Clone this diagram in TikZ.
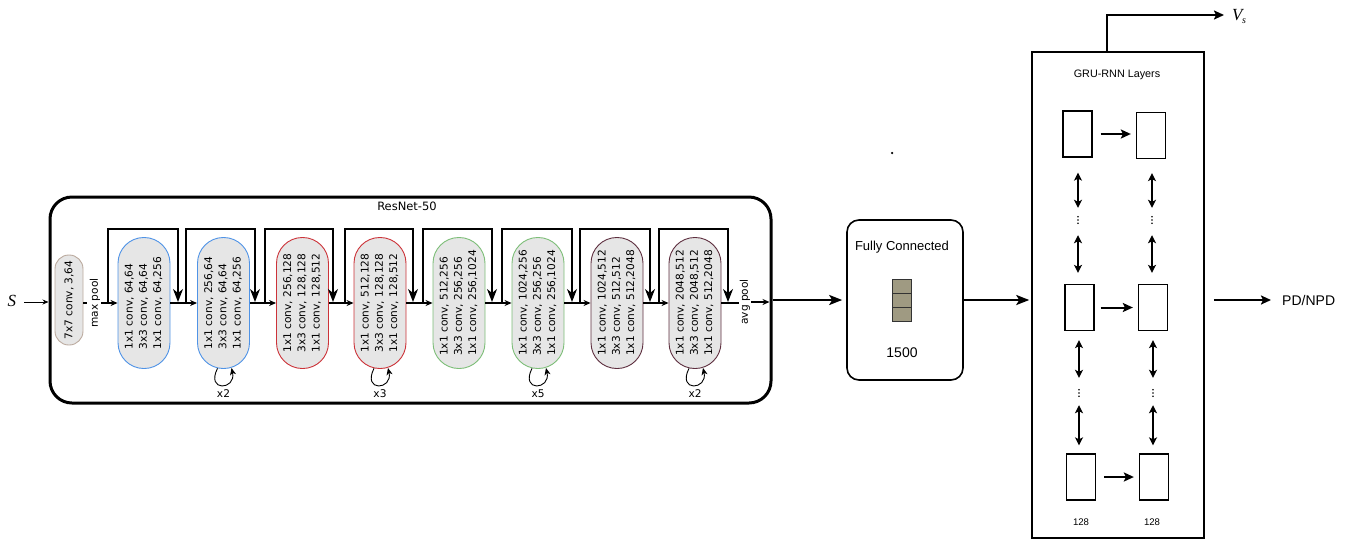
\documentclass[tikz,border=0pt]{standalone}
\usepackage{fontspec}
\usepackage{graphicx}
\usetikzlibrary{arrows.meta,calc}
\newfontfamily\dvs{DejaVu Sans}
\newfontfamily\lsans{Liberation Sans}
\newfontfamily\lserif{Liberation Serif}
\definecolor{pillfill}{HTML}{E6E6E6}
\definecolor{cbrown}{HTML}{BBAA9E}
\definecolor{cblue}{HTML}{4F93E6}
\definecolor{cred}{HTML}{CC3339}
\definecolor{cgreen}{HTML}{7DBE78}
\definecolor{cpurple}{HTML}{5E2F3F}
\definecolor{fccell}{HTML}{9F9A82}
\newcommand\ptext[3]{\rotatebox{90}{\begin{tabular}{@{}l@{}}#1\\#2\\#3\end{tabular}}}
\newcommand\rtext[1]{\rotatebox{90}{#1}}
\begin{document}
\begin{tikzpicture}[x=1pt,y=-1pt,
  pill/.style={draw=#1, fill=pillfill, line width=0.9pt, rounded corners=25.8pt,
    minimum width=52pt, minimum height=131pt, inner sep=0pt,
    font=\dvs\fontsize{10.6}{14.3}\selectfont},
  flow/.style={line width=1.2pt, -{Stealth[length=7pt,width=6pt]}},
  skiparr/.style={line width=1.2pt, -{Stealth[length=13pt,width=10pt,inset=4pt]}},
  looparr/.style={line width=0.9pt, -{Stealth[length=7pt,width=6pt,inset=2pt]}},
  lbl/.style={font=\dvs\fontsize{10.6}{12}\selectfont, inner sep=1pt},
  bigarr/.style={line width=2.4pt, -{Stealth[length=13pt,width=10pt,inset=3pt]}},
  garr/.style={line width=2pt, -{Stealth[length=10pt,width=9pt,inset=2pt]}},
  darr/.style={line width=2pt, {Stealth[length=8pt,width=8pt,inset=2pt]}-{Stealth[length=8pt,width=8pt,inset=2pt]}},
  cell/.style={draw, line width=1.3pt, minimum width=29pt, minimum height=46pt, inner sep=0pt},
  vd/.style={inner sep=0pt, minimum height=10pt, minimum width=3pt},
]
\path[use as bounding box] (0,0) rectangle (1348,539);

% ResNet container
\node[draw, line width=3pt, rounded corners=22pt, minimum width=721pt, minimum height=206pt, inner sep=0pt] (resnet) at (410.5,300) {};
\node[font=\dvs\fontsize{11.5}{12}\selectfont] (rtitle) at (407,206) {ResNet-50};

% input
\node[font=\lserif\itshape\fontsize{17}{17}\selectfont, inner sep=0pt] (s) at (12,301) {S};
\draw[line width=0.8pt, -{Stealth[length=6pt,width=5pt]}] (s.east) ++(8,1) coordinate (sst) -- (sst -| resnet.west);

% pills
\node[pill=cbrown, minimum width=28pt, minimum height=90pt, rounded corners=13.8pt] (c7) at (69,300) {\rtext{7x7 conv, 3,64}};
\node[pill=cblue] (b1) at (144,303) {\ptext{1x1 conv, 64,64}{3x3 conv, 64,64}{1x1 conv, 64,256}};
\node[pill=cblue] (b2) at (223.5,303) {\ptext{1x1 conv, 256,64}{3x3 conv, 64,64}{1x1 conv, 64,256}};
\node[pill=cred] (r1) at (302.5,303) {\ptext{1x1 conv, 256,128}{3x3 conv, 128,128}{1x1 conv, 128,512}};
\node[pill=cred] (r2) at (380,303) {\ptext{1x1 conv, 512,128}{3x3 conv, 128,128}{1x1 conv, 128,512}};
\node[pill=cgreen] (g1) at (459,303) {\ptext{1x1 conv, 512,256}{3x3 conv, 256,256}{1x1 conv, 256,1024}};
\node[pill=cgreen] (g2) at (538,303) {\ptext{1x1 conv, 1024,256}{3x3 conv, 256,256}{1x1 conv, 256,1024}};
\node[pill=cpurple] (p1) at (617,303) {\ptext{1x1 conv, 1024,512}{3x3 conv, 512,512}{1x1 conv, 512,2048}};
\node[pill=cpurple] (p2) at (695,303) {\ptext{1x1 conv, 2048,512}{3x3 conv, 2048,512}{1x1 conv, 512,2048}};

% max pool / avg pool
\node[lbl] (mp) at (95,303) {\rtext{max pool}};
\node[lbl] (ap) at (745,302) {\rtext{avg pool}};
\draw[line width=1.2pt, dashed, dash pattern=on 4pt off 2pt] (c7.east |- mp) -- (mp.west);
\draw[flow] (mp.east) -- (b1.west);
\draw[line width=1.2pt] (p2.east) -- (p2.east -| ap.west);
\draw[flow] (ap.east) -- ($(ap.east -| resnet.east)+(-3,0)$);

% main flow
\draw[flow] (b1.east) -- (b2.west);
\draw[flow] (b2.east) -- (r1.west);
\draw[flow] (r1.east) -- (r2.west);
\draw[flow] (r2.east) -- (g1.west);
\draw[flow] (g1.east) -- (g2.west);
\draw[flow] (g2.east) -- (p1.west);
\draw[flow] (p1.east) -- (p2.west);

% skip connections
\foreach \a/\b [count=\i] in {108/178,186/255,265/333,345/413,423/492,502/572,580/650,659/728}{
  \coordinate (ska\i) at (\a,303);
  \coordinate (skb\i) at (\b,302);
  \draw[skiparr] (ska\i) |- (\b,229) -- (skb\i);
}

% repeat loops
\foreach \n/\l in {b2/x2, r2/x3, g2/x5, p2/x2}{
  \draw[looparr] ($(\n.south)+(-6,-0.6)$) .. controls +(-12,24) and +(5,22) .. ($(\n.south)+(8,-1)$);
  \node[lbl] (lab\n) at ($(\n.south)+(0,24.5)$) {\l};
}

% Fully connected
\node[draw, line width=1.6pt, rounded corners=12pt, minimum width=116pt, minimum height=160pt, inner sep=0pt] (fc) at (905,300) {};
\node[font=\lsans\fontsize{13}{13}\selectfont] (fct) at (902,247) {Fully Connected};
\node[draw=black!80, fill=fccell, line width=0.9pt, minimum width=19pt, minimum height=14pt, inner sep=0pt] (fc1) at (901.5,286) {};
\node[draw=black!80, fill=fccell, line width=0.9pt, minimum width=19pt, minimum height=14pt, inner sep=0pt] (fc2) at (901.5,300) {};
\node[draw=black!80, fill=fccell, line width=0.9pt, minimum width=19pt, minimum height=14pt, inner sep=0pt] (fc3) at (901.5,314) {};
\node[font=\lsans\fontsize{14}{14}\selectfont] (fcn) at (902,353) {1500};
\node[circle, fill=black, inner sep=0pt, minimum size=2.5pt] (speck) at (892,153) {};

\draw[bigarr] (resnet.east) -- ($(fc.west)+(-4,0)$);

% GRU
\node[draw, line width=1.5pt, minimum width=172pt, minimum height=486pt, inner sep=0pt] (gru) at (1118,295) {};
\node[font=\lsans\fontsize{10.8}{11}\selectfont] (grut) at (1117,75) {GRU-RNN Layers};
\draw[bigarr] (fc.east) -- ($(fc.east -| gru.west)+(-2,0)$);

\node[cell] (tL) at (1077.5,134) {};
\node[cell] (tR) at (1151,135.5) {};
\node[cell] (mL) at (1079.5,307.5) {};
\node[cell] (mR) at (1153,307.5) {};
\node[cell] (bL) at (1081,477) {};
\node[cell] (bR) at (1154,477) {};

\draw[garr, shorten <=8pt, shorten >=5pt] (tL.east) -- (tL.east -| tR.west);
\draw[garr, shorten <=6pt, shorten >=5pt] (mL.east) -- (mL.east -| mR.west);
\draw[garr, shorten <=8pt, shorten >=5pt] (bL.east) -- (bL.east -| bR.west);

\node[vd] (d1L) at (1078,220) {};
\node[vd] (d1R) at (1152,220) {};
\node[vd] (d2L) at (1079,393) {};
\node[vd] (d2R) at (1153,393) {};
\foreach \d in {d1L,d1R,d2L,d2R}{
  \fill (\d.center) circle (0.9) ($(\d.center)+(0,-3.3)$) circle (0.9) ($(\d.center)+(0,3.3)$) circle (0.9);
}
\draw[darr, shorten <=15pt, shorten >=7pt] (tL.south -| d1L) -- (d1L.north);
\draw[darr, shorten <=10pt, shorten >=11pt] (d1L.south) -- (mL.north -| d1L);
\draw[darr, shorten <=9pt, shorten >=10pt] (mL.south -| d2L) -- (d2L.north);
\draw[darr, shorten <=7pt, shorten >=8pt] (d2L.south) -- (bL.north -| d2L);
\draw[darr, shorten <=14pt, shorten >=7pt] (tR.south -| d1R) -- (d1R.north);
\draw[darr, shorten <=10pt, shorten >=11pt] (d1R.south) -- (mR.north -| d1R);
\draw[darr, shorten <=9pt, shorten >=10pt] (mR.south -| d2R) -- (d2R.north);
\draw[darr, shorten <=7pt, shorten >=8pt] (d2R.south) -- (bR.north -| d2R);

\node[font=\lsans\fontsize{9.6}{10}\selectfont] (n1) at (1081,522) {128};
\node[font=\lsans\fontsize{9.6}{10}\selectfont] (n2) at (1152,522) {128};

% outputs
\node[font=\lserif\itshape\fontsize{17}{17}\selectfont, anchor=west, inner sep=0pt] (vs) at (1232,16) {V\kern-0.5pt\raisebox{-3pt}{\fontsize{10}{10}\selectfont s}};
\draw[garr] ($(gru.north)+(-11,0)$) |- ($(vs.west)+(-8,-1)$);
\node[font=\lsans\fontsize{14}{14}\selectfont, anchor=west, inner sep=0pt] (pd) at (1282,300) {PD/NPD};
\draw[garr, shorten <=9pt, shorten >=11pt] (gru.east |- pd.west) -- (pd.west);
\end{tikzpicture}
\end{document}
